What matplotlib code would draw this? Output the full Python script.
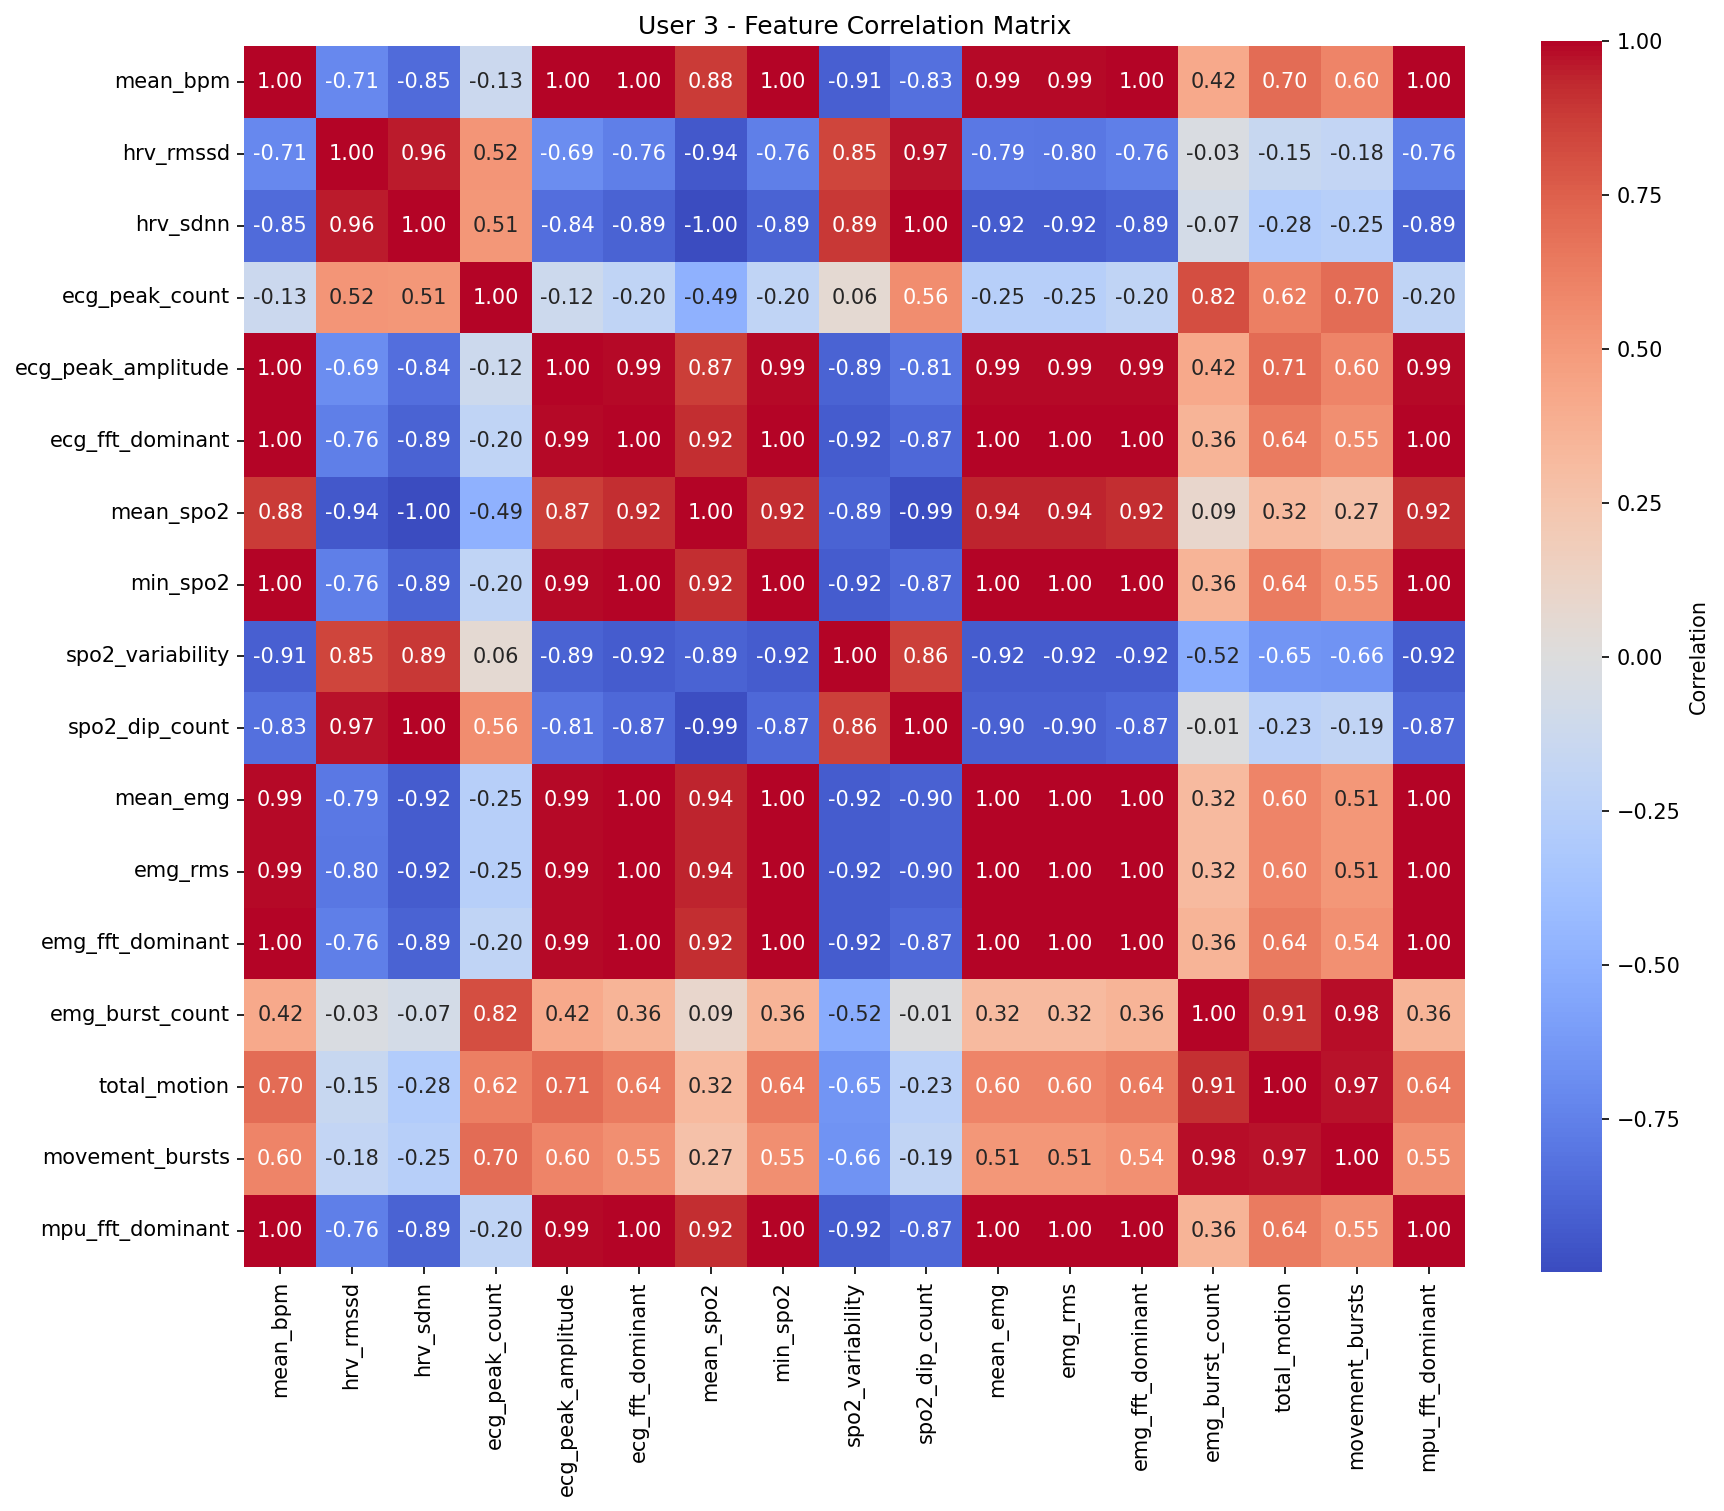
import numpy as np
import matplotlib
matplotlib.use("Agg")
import matplotlib.pyplot as plt
import seaborn as sns

features = ["mean_bpm","hrv_rmssd","hrv_sdnn","ecg_peak_count","ecg_peak_amplitude",
            "ecg_fft_dominant","mean_spo2","min_spo2","spo2_variability","spo2_dip_count",
            "mean_emg","emg_rms","emg_fft_dominant","emg_burst_count","total_motion",
            "movement_bursts","mpu_fft_dominant"]

r_mean_bpm = [1.00,-0.71,-0.85,-0.13,1.00,1.00,0.88,1.00,-0.91,-0.83,0.99,0.99,1.00,0.42,0.70,0.60,1.00]
r_hrv_rmssd = [-0.71,1.00,0.96,0.52,-0.69,-0.76,-0.94,-0.76,0.85,0.97,-0.79,-0.80,-0.76,-0.03,-0.15,-0.18,-0.76]
r_hrv_sdnn = [-0.85,0.96,1.00,0.51,-0.84,-0.89,-0.998,-0.89,0.89,1.00,-0.92,-0.92,-0.89,-0.07,-0.28,-0.25,-0.89]
r_ecg_peak_count = [-0.13,0.52,0.51,1.00,-0.12,-0.20,-0.49,-0.20,0.06,0.56,-0.25,-0.25,-0.20,0.82,0.62,0.70,-0.20]
r_ecg_peak_amplitude = [1.00,-0.69,-0.84,-0.12,1.00,0.99,0.87,0.99,-0.89,-0.81,0.99,0.99,0.99,0.42,0.71,0.60,0.99]
r_ecg_fft_dominant = [1.00,-0.76,-0.89,-0.20,0.99,1.00,0.92,1.00,-0.92,-0.87,1.00,1.00,1.00,0.36,0.64,0.55,1.00]
r_mean_spo2 = [0.88,-0.94,-0.998,-0.49,0.87,0.92,1.00,0.92,-0.89,-0.99,0.94,0.94,0.92,0.09,0.32,0.27,0.92]
r_min_spo2 = [1.00,-0.76,-0.89,-0.20,0.99,1.00,0.92,1.00,-0.92,-0.87,1.00,1.00,1.00,0.36,0.64,0.55,1.00]
r_spo2_variability = [-0.91,0.85,0.89,0.06,-0.89,-0.92,-0.89,-0.92,1.00,0.86,-0.92,-0.92,-0.92,-0.52,-0.65,-0.66,-0.92]
r_spo2_dip_count = [-0.83,0.97,1.00,0.56,-0.81,-0.87,-0.99,-0.87,0.86,1.00,-0.90,-0.90,-0.87,-0.01,-0.23,-0.19,-0.87]
r_mean_emg = [0.99,-0.79,-0.92,-0.25,0.99,1.00,0.94,1.00,-0.92,-0.90,1.00,1.00,1.00,0.32,0.60,0.51,1.00]
r_emg_rms = [0.99,-0.80,-0.92,-0.25,0.99,1.00,0.94,1.00,-0.92,-0.90,1.00,1.00,1.00,0.32,0.60,0.51,1.00]
r_emg_fft_dominant = [1.00,-0.76,-0.89,-0.20,0.99,1.00,0.92,1.00,-0.92,-0.87,1.00,1.00,1.00,0.36,0.64,0.54,1.00]
r_emg_burst_count = [0.42,-0.03,-0.07,0.82,0.42,0.36,0.09,0.36,-0.52,-0.01,0.32,0.32,0.36,1.00,0.91,0.98,0.36]
r_total_motion = [0.70,-0.15,-0.28,0.62,0.71,0.64,0.32,0.64,-0.65,-0.23,0.60,0.60,0.64,0.91,1.00,0.97,0.64]
r_movement_bursts = [0.60,-0.18,-0.25,0.70,0.60,0.55,0.27,0.55,-0.66,-0.19,0.51,0.51,0.54,0.98,0.97,1.00,0.55]
r_mpu_fft_dominant = [1.00,-0.76,-0.89,-0.20,0.99,1.00,0.92,1.00,-0.92,-0.87,1.00,1.00,1.00,0.36,0.64,0.55,1.00]

M = np.array([r_mean_bpm, r_hrv_rmssd, r_hrv_sdnn, r_ecg_peak_count, r_ecg_peak_amplitude,
              r_ecg_fft_dominant, r_mean_spo2, r_min_spo2, r_spo2_variability, r_spo2_dip_count,
              r_mean_emg, r_emg_rms, r_emg_fft_dominant, r_emg_burst_count, r_total_motion,
              r_movement_bursts, r_mpu_fft_dominant])

fig, ax = plt.subplots(figsize=(12, 10))
sns.heatmap(M, annot=True, fmt=".2f", cmap="coolwarm", square=True,
            xticklabels=features, yticklabels=features, ax=ax,
            cbar_kws={"label": "Correlation"})
ax.set_title("User 3 - Feature Correlation Matrix", fontsize=12)
plt.tight_layout()
fig.savefig("out.png", dpi=150, bbox_inches="tight")
